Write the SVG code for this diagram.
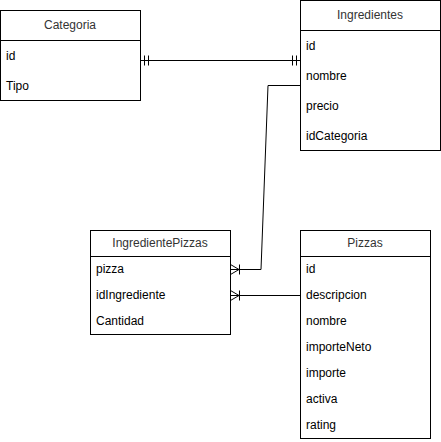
<svg xmlns="http://www.w3.org/2000/svg" width="441" height="442" viewBox="0 0 441 442">
<style>
.box{fill:#fff;stroke:#000;stroke-width:1}
.sep{stroke:#000;stroke-width:1}
.t{font-family:"Liberation Sans",Arial,sans-serif;font-size:12px;fill:#000}
.h{text-anchor:middle;fill:#333}
.e{fill:none;stroke:#000;stroke-width:1}
</style>
<rect width="441" height="442" fill="#fff"/>
<g id="connectors">
  <g id="e1">
    <path class="e" d="M140.5 60.5 L300.5 60.5"/>
    <path class="e" d="M144.5 55.5 V65.5 M148.5 55.5 V65.5"/>
    <path class="e" d="M296.5 55.5 V65.5 M292.5 55.5 V65.5"/>
  </g>
  <g id="e2">
    <path class="e" d="M300.5 85.5 L268 85.5 L261 269.5 L230.5 269.5"/>
    <path class="e" d="M230.5 264.5 L239 269.5 L230.5 274.5 M239.5 264.5 V274.5"/>
  </g>
  <g id="e3">
    <path class="e" d="M300.5 295.5 L230.5 295.5"/>
    <path class="e" d="M230.5 290.5 L239 295.5 L230.5 300.5 M239.5 290.5 V300.5"/>
  </g>
</g>
<g id="Categoria">
  <rect class="box" x="0.5" y="10.5" width="140" height="90"/>
  <line class="sep" x1="0.5" y1="40.5" x2="140.5" y2="40.5"/>
  <text class="t h" x="70" y="29">Categoria</text>
  <text class="t" x="6" y="60">id</text>
  <text class="t" x="6" y="90">Tipo</text>
</g>
<g id="Ingredientes">
  <rect class="box" x="300.5" y="0.5" width="140" height="150"/>
  <line class="sep" x1="300.5" y1="30.5" x2="440.5" y2="30.5"/>
  <text class="t h" x="370" y="19">Ingredientes</text>
  <text class="t" x="306" y="50">id</text>
  <text class="t" x="306" y="80">nombre</text>
  <text class="t" x="306" y="110">precio</text>
  <text class="t" x="306" y="140">idCategoria</text>
</g>
<g id="IngredientePizzas">
  <rect class="box" x="90.5" y="230.5" width="140" height="104"/>
  <line class="sep" x1="90.5" y1="256.5" x2="230.5" y2="256.5"/>
  <text class="t h" x="160" y="247">IngredientePizzas</text>
  <text class="t" x="96" y="273">pizza</text>
  <text class="t" x="96" y="299">idIngrediente</text>
  <text class="t" x="96" y="325">Cantidad</text>
</g>
<g id="Pizzas">
  <rect class="box" x="300.5" y="230.5" width="130" height="208"/>
  <line class="sep" x1="300.5" y1="256.5" x2="430.5" y2="256.5"/>
  <text class="t h" x="365" y="247">Pizzas</text>
  <text class="t" x="306" y="273">id</text>
  <text class="t" x="306" y="299">descripcion</text>
  <text class="t" x="306" y="325">nombre</text>
  <text class="t" x="306" y="351">importeNeto</text>
  <text class="t" x="306" y="377">importe</text>
  <text class="t" x="306" y="403">activa</text>
  <text class="t" x="306" y="429">rating</text>
</g>
</svg>
